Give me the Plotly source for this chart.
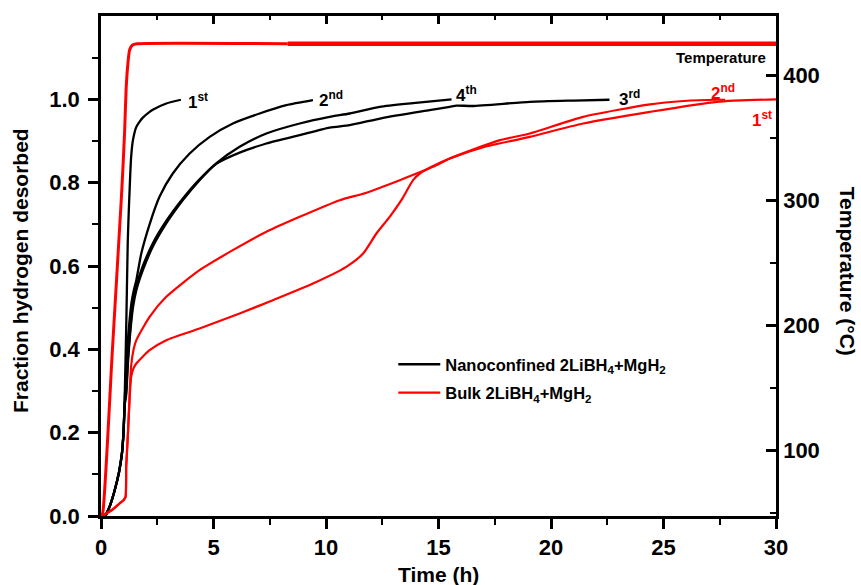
import plotly.graph_objects as go

# ---------------- data ----------------
# Nanoconfined 2LiBH4+MgH2, cycles 1-4 (time h, fraction desorbed)
nano1_t = [0.2, 0.4, 0.6, 0.8, 0.93, 1.0, 1.06, 1.12, 1.15, 1.19, 1.24, 1.27, 1.30, 1.34, 1.42, 1.57, 1.71, 1.86, 2.16, 2.3, 2.9, 3.55]
nano1_f = [0.0, 0.025, 0.06, 0.105, 0.15, 0.2, 0.3, 0.45, 0.54, 0.66, 0.74, 0.78, 0.82, 0.862, 0.902, 0.934, 0.946, 0.956, 0.970, 0.975, 0.990, 0.999]

nano2_t = [0.2, 0.4, 0.6, 0.8, 0.93, 1.0, 1.06, 1.12, 1.19, 1.27, 1.35, 1.45, 1.57, 1.79, 2.16, 2.6, 3.19, 3.94, 4.83, 5.86, 7.05, 8.24, 9.42]
nano2_f = [0.0, 0.025, 0.06, 0.105, 0.15, 0.2, 0.28, 0.36, 0.42, 0.47, 0.51, 0.54, 0.566, 0.63, 0.70, 0.766, 0.822, 0.87, 0.91, 0.942, 0.966, 0.986, 0.998]

nano3_t = [0.2, 0.4, 0.6, 0.8, 0.93, 1.0, 1.06, 1.12, 1.2, 1.3, 1.42, 1.57, 1.86, 2.3, 2.9, 3.64, 4.38, 5.12, 6.16, 7.35, 8.83, 10.16, 11.05, 12.5, 14.6, 15.5, 15.8, 16.5, 19.06, 21.0, 22.6]
nano3_f = [0.0, 0.025, 0.06, 0.105, 0.15, 0.2, 0.27, 0.3, 0.38, 0.45, 0.51, 0.552, 0.60, 0.654, 0.708, 0.762, 0.808, 0.845, 0.872, 0.894, 0.914, 0.932, 0.938, 0.955, 0.974, 0.982, 0.985, 0.984, 0.994, 0.997, 0.999]

nano4_t = [0.2, 0.4, 0.6, 0.8, 0.93, 1.0, 1.06, 1.12, 1.2, 1.3, 1.42, 1.57, 1.86, 2.3, 2.9, 3.64, 4.38, 5.12, 6.16, 7.35, 8.83, 10.16, 11.05, 12.39, 13.87, 15.58]
nano4_f = [0.0, 0.025, 0.06, 0.105, 0.15, 0.2, 0.27, 0.29, 0.37, 0.44, 0.50, 0.542, 0.59, 0.646, 0.702, 0.758, 0.806, 0.846, 0.886, 0.918, 0.942, 0.958, 0.966, 0.982, 0.991, 1.0]

# Bulk 2LiBH4+MgH2, cycles 1-2
bulk1_t = [0.05, 0.23, 0.5, 0.82, 1.0, 1.09, 1.12, 1.2, 1.27, 1.34, 1.45, 1.57, 2.16, 2.9, 4.38, 6.16, 7.64, 9.42, 10.9, 11.65, 12.24, 12.83, 13.35, 13.87, 14.17, 14.76, 15.5, 17.0, 19.06, 21.43, 24.4, 27.37, 30.0]
bulk1_f = [0.0, 0.006, 0.015, 0.03, 0.038, 0.046, 0.118, 0.2, 0.278, 0.334, 0.355, 0.366, 0.398, 0.422, 0.45, 0.486, 0.518, 0.558, 0.598, 0.630, 0.678, 0.718, 0.758, 0.806, 0.822, 0.840, 0.858, 0.885, 0.910, 0.942, 0.970, 0.994, 1.0]

bulk2_t = [0.05, 0.23, 0.5, 0.82, 1.0, 1.09, 1.12, 1.2, 1.27, 1.34, 1.45, 1.57, 2.16, 2.9, 4.38, 5.86, 7.35, 8.83, 10.61, 11.8, 14.76, 15.5, 17.73, 19.06, 21.43, 24.4, 25.9, 27.37, 27.74]
bulk2_f = [0.0, 0.006, 0.015, 0.03, 0.038, 0.046, 0.118, 0.2, 0.29, 0.36, 0.40, 0.422, 0.478, 0.526, 0.590, 0.638, 0.682, 0.718, 0.758, 0.776, 0.838, 0.858, 0.902, 0.918, 0.958, 0.988, 0.996, 0.999, 0.999]

# Temperature programme (time h, deg C)
temp_t = [0.0, 0.08, 0.5, 0.9, 0.97, 1.05, 1.12, 1.2, 1.27, 1.4, 1.6, 8.3, 30.0]
temp_T = [47.0, 50.0, 178.0, 300.0, 324.0, 355.0, 390.0, 410.0, 420.0, 424.0, 425.0, 425.0, 425.0]
temp_split = 8.3  # after this time the two temperature records overlap (thicker line)

# tick labels
x_ticks = [0, 5, 10, 15, 20, 25, 30]
x_minor = [2.5, 7.5, 12.5, 17.5, 22.5, 27.5]
y_ticks = [0.0, 0.2, 0.4, 0.6, 0.8, 1.0]
y_minor = [0.1, 0.3, 0.5, 0.7, 0.9, 1.1]
t_ticks = [100, 200, 300, 400]
t_minor = [50, 150, 250, 350]

cycle_labels = [  # text, time, fraction, colour
    ("1<sup>st</sup>", 3.76, 0.997, "black"),
    ("2<sup>nd</sup>", 9.6, 1.0, "black"),
    ("4<sup>th</sup>", 15.7, 1.012, "black"),
    ("3<sup>rd</sup>", 22.95, 1.004, "black"),
    ("2<sup>nd</sup>", 27.0, 1.018, "red"),
    ("1<sup>st</sup>", 28.85, 0.952, "red"),
]

FONT = "Liberation Sans, Arial, sans-serif"
RED = "#ff0000"

fig = go.Figure()

# temperature (behind)
t_a = [t for t in temp_t if t <= temp_split]
T_a = [T for t, T in zip(temp_t, temp_T) if t <= temp_split]
t_b = [t for t in temp_t if t >= temp_split]
T_b = [T for t, T in zip(temp_t, temp_T) if t >= temp_split]
fig.add_trace(go.Scatter(x=t_a, y=T_a, mode="lines", yaxis="y2", showlegend=False,
                         line=dict(color=RED, width=3, shape="spline", smoothing=0.5)))
fig.add_trace(go.Scatter(x=t_b, y=T_b, mode="lines", yaxis="y2", showlegend=False,
                         line=dict(color=RED, width=4.5)))

nano_name = "Nanoconfined 2LiBH<sub>4</sub>+MgH<sub>2</sub>"
bulk_name = "Bulk 2LiBH<sub>4</sub>+MgH<sub>2</sub>"

for i, (tt, ff) in enumerate([(nano1_t, nano1_f), (nano2_t, nano2_f), (nano3_t, nano3_f), (nano4_t, nano4_f)]):
    fig.add_trace(go.Scatter(x=tt, y=ff, mode="lines", name=nano_name, legendgroup="nano",
                             showlegend=(i == 0),
                             line=dict(color="black", width=2.3, shape="spline", smoothing=0.6)))
for i, (tt, ff) in enumerate([(bulk1_t, bulk1_f), (bulk2_t, bulk2_f)]):
    fig.add_trace(go.Scatter(x=tt, y=ff, mode="lines", name=bulk_name, legendgroup="bulk",
                             showlegend=(i == 0),
                             line=dict(color=RED, width=2.2, shape="spline", smoothing=0.6)))

# dummy trace to carry the top axis
fig.add_trace(go.Scatter(x=[0, 30], y=[0, 0], xaxis="x2", mode="lines", showlegend=False,
                         line=dict(width=0), hoverinfo="skip"))

axis_common = dict(showgrid=False, zeroline=False, showline=True, linecolor="black",
                   linewidth=2.5, tickcolor="black", tickwidth=2.5)
tickfont = dict(family=FONT, size=22, color="black", weight="bold")

fig.update_layout(
    width=861, height=585,
    margin=dict(l=101, r=85, t=16, b=69),
    paper_bgcolor="white", plot_bgcolor="white",
    xaxis=dict(range=[0, 30], tickmode="array", tickvals=x_ticks, ticks="outside", ticklen=10,
               minor=dict(tickmode="array", tickvals=x_minor, ticks="outside", ticklen=6,
                          tickwidth=2, tickcolor="black"),
               tickfont=tickfont, **axis_common),
    xaxis2=dict(range=[0, 30], overlaying="x", side="top", anchor="y", tickmode="array",
                tickvals=x_ticks, ticks="inside", ticklen=8, showticklabels=False,
                minor=dict(tickmode="array", tickvals=x_minor, ticks="inside", ticklen=4,
                           tickwidth=2, tickcolor="black"),
                **axis_common),
    yaxis=dict(range=[0, 1.2], tickmode="array", tickvals=y_ticks,
               ticktext=[f"{v:.1f}" for v in y_ticks], ticks="outside", ticklen=10,
               ticklabelstandoff=4,
               minor=dict(tickmode="array", tickvals=y_minor, ticks="outside", ticklen=6,
                          tickwidth=2, tickcolor="black"),
               tickfont=tickfont, **axis_common),
    yaxis2=dict(range=[47.2, 447.2], overlaying="y", side="right", anchor="x", tickmode="array",
                tickvals=t_ticks, ticks="inside", ticklen=10,
                minor=dict(tickmode="array", tickvals=t_minor, ticks="inside", ticklen=6,
                           tickwidth=2, tickcolor="black"),
                tickfont=tickfont, **axis_common),
    legend=dict(x=0.433, y=0.338, xanchor="left", yanchor="top", bgcolor="rgba(0,0,0,0)",
                font=dict(family=FONT, size=16.5, color="black", weight="bold"),
                traceorder="grouped", tracegroupgap=4, itemwidth=42),
    showlegend=True,
)

annotations = [
    dict(text="Time (h)", x=0.5, y=-0.118, xref="paper", yref="paper", showarrow=False,
         xanchor="center", yanchor="middle", font=dict(family=FONT, size=21, color="black", weight="bold")),
    dict(text="Fraction hydrogen desorbed", x=-0.12, y=0.49, xref="paper", yref="paper",
         showarrow=False, textangle=-90, xanchor="center", yanchor="middle",
         font=dict(family=FONT, size=21, color="black", weight="bold")),
    dict(text="Temperature (°C)", x=1.107, y=0.49, xref="paper", yref="paper",
         showarrow=False, textangle=90, xanchor="center", yanchor="middle",
         font=dict(family=FONT, size=21, color="black", weight="bold")),
    dict(text="Temperature", x=29.65, y=1.1015, xref="x", yref="y", showarrow=False,
         xanchor="right", yanchor="middle", font=dict(family=FONT, size=15, color="black", weight="bold")),
]
for txt, tx, fy, col in cycle_labels:
    annotations.append(dict(text=txt, x=tx, y=fy, xref="x", yref="y", showarrow=False,
                            xanchor="left", yanchor="middle",
                            font=dict(family=FONT, size=17, color=col, weight="bold")))
fig.update_layout(annotations=annotations)

fig.write_html("out.html")
